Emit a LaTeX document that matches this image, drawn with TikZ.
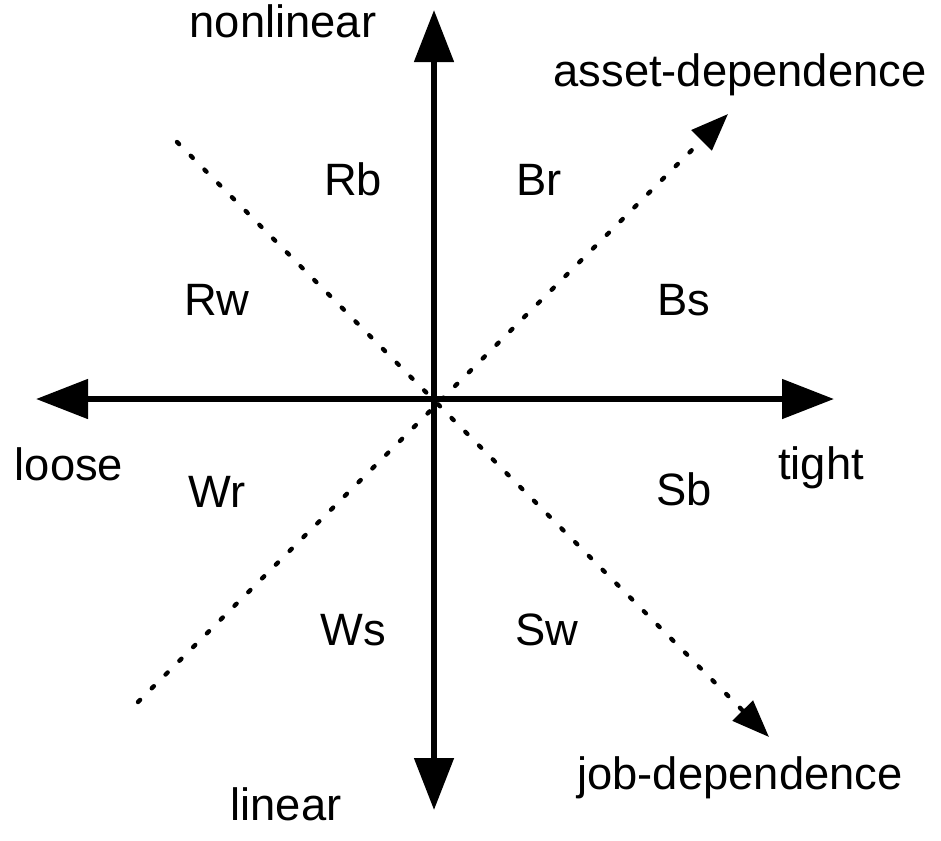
\documentclass[tikz,border=0pt]{standalone}
\usepackage{fontspec}
\setmainfont{Liberation Sans}
\usetikzlibrary{positioning,arrows.meta}
\tikzstyle{chart} = [x = .75pt, y = -.75pt]
\tikzstyle{axisLine} = [line width = 4.5pt, {Triangle[length=39pt,width=29pt]}-{Triangle[length=39pt,width=29pt]}]
\tikzstyle{dependenceLine} = [line width = 3.3pt, line cap = round, dash pattern = on 2.2pt off 12.4pt]
\tikzstyle{dependenceArrow} = [dependenceLine, -{Triangle[length=28pt,width=21pt]}]
\tikzstyle{chartText} = [font=\fontsize{34}{40}\selectfont, inner sep = 0pt, anchor = base]
\newcommand{\regionLabel}[3]{\node [chartText] (#1) at (#2, #3) {#1};}
\newcommand{\axisLabel}[4]{\node [chartText] (#1) at (#2, #3) {#4};}

\begin{document}
\begin{tikzpicture}[chart]
  \useasboundingbox (0,0) rectangle (941,840);
  % axes
  \coordinate (origin) at (434,399);
  \coordinate (top) at (434,10);
  \coordinate (bottom) at (434,810);
  \coordinate (left) at (36,399);
  \coordinate (right) at (834,399);
  \draw [axisLine] (bottom) -- (top);
  \draw [axisLine] (left) -- (right);

  % dependence directions
  \coordinate (assetStart) at (138,702);
  \coordinate (assetEnd) at (728,114);
  \coordinate (jobStart) at (177,142);
  \coordinate (jobEnd) at (769,737);
  \draw [dependenceArrow] (assetStart) -- (assetEnd);
  \draw [dependenceArrow] (jobStart) -- (jobEnd);

  \axisLabel{nonlinearLabel}{283}{37}{nonlinear}
  \axisLabel{linearLabel}{286}{820}{linear}
  \axisLabel{looseLabel}{69}{480}{loose}
  \axisLabel{tightLabel}{821}{479}{tight}
  \axisLabel{assetLabel}{740}{86}{asset-dependence}
  \axisLabel{jobLabel}{740}{789}{job-dependence}

  \regionLabel{Rb}{353}{195}
  \regionLabel{Br}{539}{195}
  \regionLabel{Rw}{217}{315}
  \regionLabel{Bs}{684}{315}
  \regionLabel{Wr}{217}{507}
  \regionLabel{Sb}{684}{505}
  \regionLabel{Ws}{353}{645}
  \regionLabel{Sw}{547}{645}
\end{tikzpicture}
\end{document}
